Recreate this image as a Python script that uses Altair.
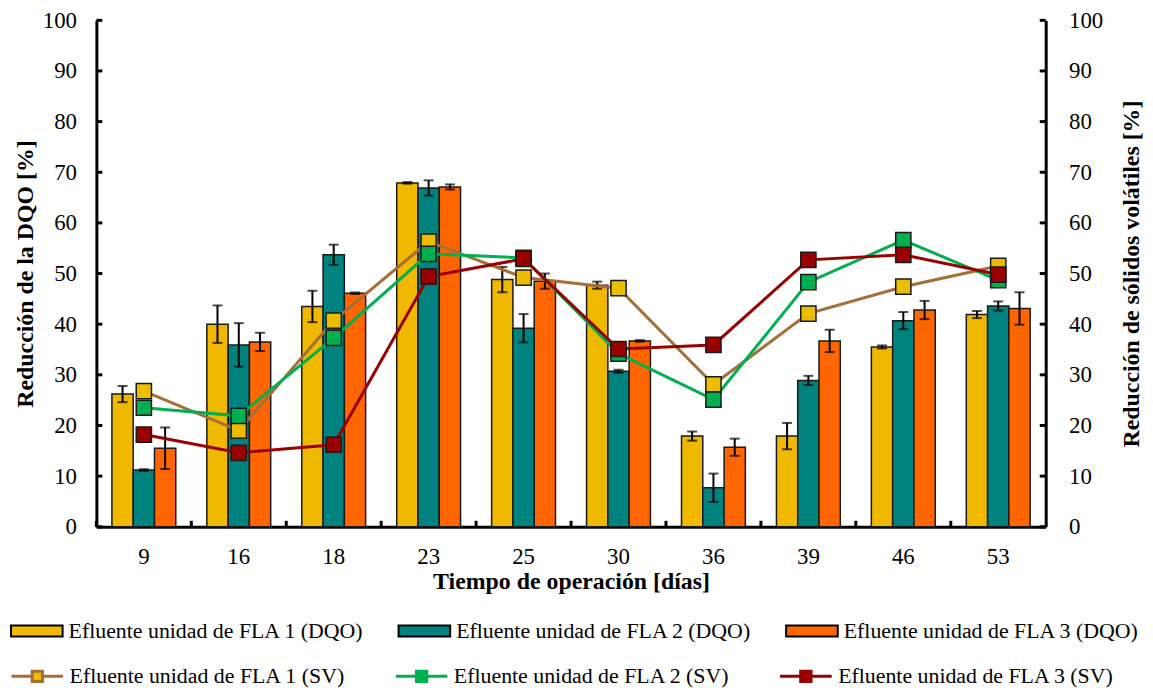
import altair as alt
import pandas as pd

# ---------------- data ----------------
days = ["9", "16", "18", "23", "25", "30", "36", "39", "46", "53"]
y_ticks = [0, 10, 20, 30, 40, 50, 60, 70, 80, 90, 100]

series_dqo = ["Efluente unidad de FLA 1 (DQO)",
              "Efluente unidad de FLA 2 (DQO)",
              "Efluente unidad de FLA 3 (DQO)"]
series_sv = ["Efluente unidad de FLA 1 (SV)",
             "Efluente unidad de FLA 2 (SV)",
             "Efluente unidad de FLA 3 (SV)"]

dqo1 = [26.2, 40.0, 43.5, 67.9, 48.8, 47.7, 17.9, 17.9, 35.5, 41.9]
dqo1_err = [1.6, 3.7, 3.1, 0.15, 2.5, 0.7, 0.9, 2.6, 0.3, 0.7]
dqo2 = [11.2, 35.9, 53.7, 66.9, 39.2, 30.7, 7.7, 28.9, 40.7, 43.6]
dqo2_err = [0.15, 4.3, 2.0, 1.5, 2.8, 0.3, 2.8, 0.9, 1.7, 0.9]
dqo3 = [15.5, 36.5, 46.1, 67.1, 48.5, 36.7, 15.7, 36.7, 42.8, 43.1]
dqo3_err = [4.1, 1.8, 0.15, 0.5, 1.5, 0.15, 1.7, 2.2, 1.8, 3.2]

sv1 = [26.8, 19.0, 40.7, 56.3, 49.2, 47.1, 28.1, 42.1, 47.4, 51.5]
sv2 = [23.5, 21.9, 37.3, 53.9, 53.1, 34.2, 25.1, 48.3, 56.6, 48.7]
sv3 = [18.2, 14.6, 16.2, 49.4, 52.9, 35.1, 35.9, 52.7, 53.7, 49.8]

bar_colors = ["#F1B800", "#00837F", "#FF6600"]
line_colors = ["#A66E38", "#00B050", "#990000"]
marker_colors = ["#EBBD00", "#00B050", "#990000"]

# ---------------- tables ----------------
rows = []
for name, vals, errs in zip(series_dqo, [dqo1, dqo2, dqo3], [dqo1_err, dqo2_err, dqo3_err]):
    for d, v, e in zip(days, vals, errs):
        rows.append({"dia": d, "serie": name, "valor": v, "lo": v - e, "hi": v + e})
bars_df = pd.DataFrame(rows)

rows = []
for name, vals in zip(series_sv, [sv1, sv2, sv3]):
    for i, (d, v) in enumerate(zip(days, vals)):
        rows.append({"dia": d, "serie": name, "valor": v, "idx": i})
sv_df = pd.DataFrame(rows)

yt_df = pd.DataFrame({"v": y_ticks})
xt_df = pd.DataFrame({"dia": days})

W, H = 956, 510
TOP = 10
FONT = "Liberation Serif"
ydom = alt.Scale(domain=[0, 100], nice=False)

font_style = dict(labelFont=FONT, labelFontSize=23, labelColor="black",
                  titleFont=FONT, titleFontSize=24, titleFontWeight="bold", titleColor="black")
base_style = dict(grid=False, ticks=False, tickSize=0, domainColor="black", domainWidth=3)

x_scale = alt.Scale(paddingInner=0, paddingOuter=0)
x_enc_axis = alt.X("dia:N", sort=days, scale=x_scale,
                   axis=alt.Axis(title="Tiempo de operación [días]", labelAngle=0,
                                 labelPadding=19, titlePadding=1, **base_style, **font_style))
x_plain = alt.X("dia:N", sort=days, scale=x_scale)
x_off = alt.XOffset("serie:N", sort=series_dqo,
                    scale=alt.Scale(paddingInner=0, paddingOuter=0.73))

y_left = alt.Y("valor:Q", scale=ydom,
               axis=alt.Axis(title="Reducción de la DQO [%]", values=y_ticks,
                             labelPadding=20, titlePadding=5, **base_style, **font_style))

legend_dqo = alt.Legend(title=None, orient="none", legendX=-87, legendY=632 - 26 - (TOP + 8),
                        direction="horizontal", columns=3, columnPadding=30.3,
                        symbolType="M-1,-0.21H1V0.21H-1Z", symbolSize=2704,
                        symbolStrokeColor="black", symbolStrokeWidth=2,
                        labelFont=FONT, labelFontSize=22, labelColor="black",
                        labelOffset=5, labelLimit=500)

legend_sv = alt.Legend(title=None, orient="none", legendX=-87, legendY=677 - 26 - (TOP + 8),
                       direction="horizontal", columns=3, columnPadding=44,
                       symbolType="M-1,0H-0.2M0.2,0H1M-0.2,-0.2H0.2V0.2H-0.2Z",
                       symbolSize=2704, symbolStrokeWidth=3,
                       labelFont=FONT, labelFontSize=22, labelColor="black",
                       labelOffset=5, labelLimit=500)

bars = alt.Chart(bars_df).mark_bar(stroke="#1a1a1a", strokeWidth=1.5).encode(
    x=x_enc_axis, xOffset=x_off, y=y_left,
    color=alt.Color("serie:N", sort=series_dqo,
                    scale=alt.Scale(domain=series_dqo, range=bar_colors), legend=legend_dqo),
)
err_v = alt.Chart(bars_df).mark_rule(color="black", strokeWidth=2).encode(
    x=x_plain, xOffset=x_off, y=alt.Y("lo:Q", scale=ydom), y2="hi:Q")
cap_lo = alt.Chart(bars_df).mark_tick(color="black", thickness=2, size=10, orient="horizontal").encode(
    x=x_plain, xOffset=x_off, y=alt.Y("lo:Q", scale=ydom))
cap_hi = alt.Chart(bars_df).mark_tick(color="black", thickness=2, size=10, orient="horizontal").encode(
    x=x_plain, xOffset=x_off, y=alt.Y("hi:Q", scale=ydom))

ytick_l = alt.Chart(yt_df).mark_rule(color="black", strokeWidth=3).encode(
    y=alt.Y("v:Q", scale=ydom), x=alt.value(0), x2=alt.value(6))
ytick_r = alt.Chart(yt_df).mark_rule(color="black", strokeWidth=3).encode(
    y=alt.Y("v:Q", scale=ydom), x=alt.value(W - 6), x2=alt.value(W))
xtick = alt.Chart(xt_df).mark_rule(color="black", strokeWidth=3).encode(
    x=alt.X("dia:N", sort=days, scale=x_scale, bandPosition=0),
    y=alt.value(H - 6), y2=alt.value(H))

left = alt.layer(bars, err_v, cap_lo, cap_hi, ytick_l, ytick_r, xtick)

y_right = alt.Y("valor:Q", scale=ydom,
                axis=alt.Axis(orient="right", title="Reducción de sólidos volátiles [%]",
                              values=y_ticks, labelPadding=23, titlePadding=17,
                              titleAngle=270, titleBaseline="top", **base_style, **font_style))

lines = alt.Chart(sv_df).mark_line(strokeWidth=3).encode(
    x=x_plain, y=y_right,
    stroke=alt.Stroke("serie:N", sort=series_sv,
                      scale=alt.Scale(domain=series_sv, range=line_colors), legend=legend_sv),
    order=alt.Order("idx:Q"),
)
points = alt.Chart(sv_df).mark_square(size=235, stroke="#1a1a1a", strokeWidth=1.5, opacity=1).encode(
    x=x_plain, y=alt.Y("valor:Q", scale=ydom),
    fill=alt.Fill("serie:N", sort=series_sv,
                  scale=alt.Scale(domain=series_sv, range=marker_colors), legend=legend_sv),
)
right = alt.layer(lines, points)

chart = alt.layer(left, right).resolve_scale(y="independent").properties(
    width=W, height=H,
    autosize=alt.AutoSizeParams(type="none"),
    padding={"left": 89, "top": TOP, "right": 1145 - 89 - W, "bottom": 684 - TOP - H},
).configure(
    font=FONT,
    style={"guide-label": {"font": FONT}, "guide-title": {"font": FONT}},
).configure_view(stroke=None).configure_axis(**base_style)

chart.save("out.html", embed_options={"renderer": "svg", "actions": False})
